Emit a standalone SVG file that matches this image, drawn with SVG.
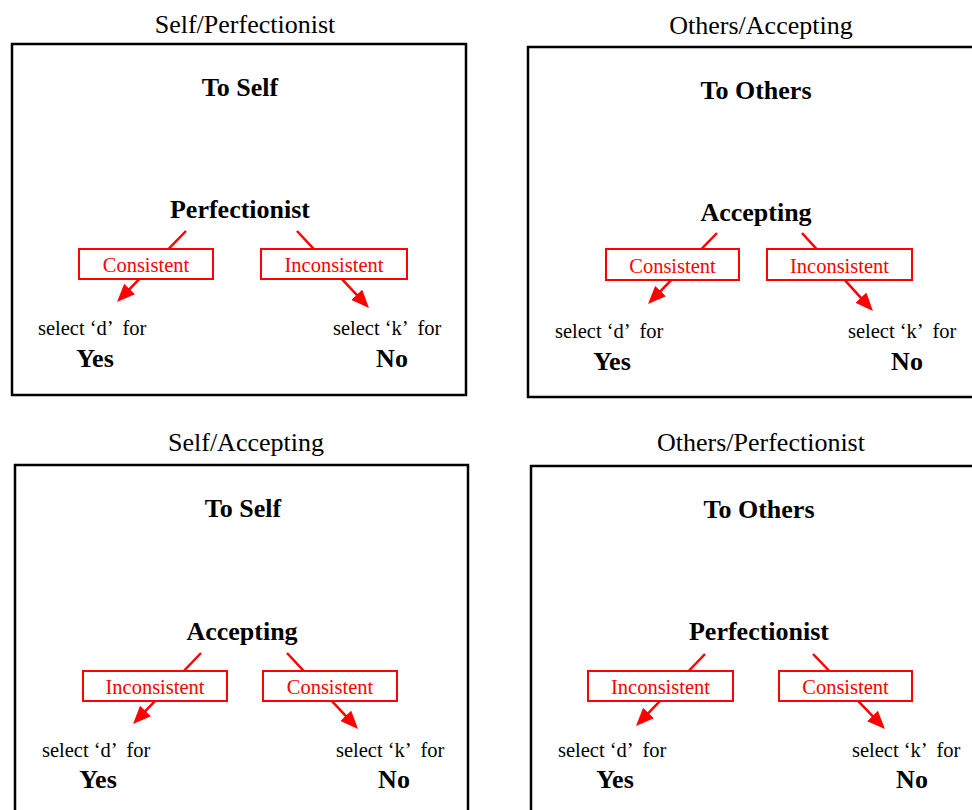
<svg xmlns="http://www.w3.org/2000/svg" width="972" height="810" viewBox="0 0 972 810">
<defs>
<style>
text{font-family:"Liberation Serif","Times New Roman",serif;}
.title{font-size:26px;fill:#000;text-anchor:middle;}
.head{font-size:26px;font-weight:bold;fill:#000;text-anchor:middle;}
.lbl{font-size:20.5px;fill:#ff0000;text-anchor:middle;}
.sel{font-size:20.5px;fill:#000;white-space:pre;}
.ans{font-size:26px;font-weight:bold;fill:#000;text-anchor:middle;}
.panel{fill:#fff;stroke:#000;stroke-width:2.5;}
.lbox{fill:#fff;stroke:#ff0000;stroke-width:2;}
.conn{stroke:#ff0000;stroke-width:2.5;fill:none;marker-end:url(#ah);}
</style>
<marker id="ah" markerWidth="18" markerHeight="15" refX="13" refY="7.5" orient="auto" markerUnits="userSpaceOnUse">
<path d="M0,0 L18,7.5 L0,15 z" fill="#ff0000"/>
</marker>
</defs>
<rect width="972" height="810" fill="#fff"/>

<g id="panel-self-perfectionist">
<text class="title" x="245" y="33">Self/Perfectionist</text>
<rect class="panel" x="12" y="44" width="454" height="351"/>
<text class="head" x="240" y="96">To Self</text>
<text class="head" x="240" y="218">Perfectionist</text>
</g>
<g id="panel-others-accepting">
<text class="title" x="761" y="34">Others/Accepting</text>
<rect class="panel" x="528" y="47" width="470" height="350"/>
<text class="head" x="756" y="99">To Others</text>
<text class="head" x="756" y="221">Accepting</text>
</g>
<g id="panel-self-accepting">
<text class="title" x="246" y="451">Self/Accepting</text>
<rect class="panel" x="15" y="465" width="453" height="360"/>
<text class="head" x="243" y="517">To Self</text>
<text class="head" x="242" y="640">Accepting</text>
</g>
<g id="panel-others-perfectionist">
<text class="title" x="761" y="451">Others/Perfectionist</text>
<rect class="panel" x="531" y="466" width="470" height="360"/>
<text class="head" x="759" y="518">To Others</text>
<text class="head" x="759" y="640">Perfectionist</text>
</g>

<g id="connectors">
<line class="conn" x1="186" y1="231" x2="120.5" y2="298.4"/>
<line class="conn" x1="297" y1="231" x2="365.6" y2="304.3"/>
<line class="conn" x1="717" y1="233" x2="651.5" y2="300.4"/>
<line class="conn" x1="802" y1="233" x2="869.6" y2="307.3"/>
<line class="conn" x1="201" y1="653" x2="136.5" y2="720.4"/>
<line class="conn" x1="287" y1="653" x2="354.6" y2="725.3"/>
<line class="conn" x1="705" y1="654" x2="639.5" y2="722.4"/>
<line class="conn" x1="813" y1="654" x2="881.5" y2="725.4"/>
</g>

<g id="p1-consistent"><rect class="lbox" x="79" y="249" width="134" height="30"/><text class="lbl" x="146" y="272">Consistent</text></g>
<g id="p1-inconsistent"><rect class="lbox" x="261" y="249" width="146" height="30"/><text class="lbl" x="334" y="272">Inconsistent</text></g>
<g id="p2-consistent"><rect class="lbox" x="606" y="249" width="133" height="31"/><text class="lbl" x="672.5" y="273">Consistent</text></g>
<g id="p2-inconsistent"><rect class="lbox" x="767" y="249" width="145" height="31"/><text class="lbl" x="839.5" y="273">Inconsistent</text></g>
<g id="p3-inconsistent"><rect class="lbox" x="83" y="671" width="144" height="30"/><text class="lbl" x="155" y="694">Inconsistent</text></g>
<g id="p3-consistent"><rect class="lbox" x="263" y="671" width="134" height="30"/><text class="lbl" x="330" y="694">Consistent</text></g>
<g id="p4-inconsistent"><rect class="lbox" x="588" y="671" width="145" height="30"/><text class="lbl" x="660.5" y="694">Inconsistent</text></g>
<g id="p4-consistent"><rect class="lbox" x="779" y="671" width="133" height="30"/><text class="lbl" x="845.5" y="694">Consistent</text></g>

<g id="p1-yes"><text class="sel" x="38" y="335">select ‘d’  for</text><text class="ans" x="95" y="367">Yes</text></g>
<g id="p1-no"><text class="sel" x="333" y="335">select ‘k’  for</text><text class="ans" x="392" y="367">No</text></g>
<g id="p2-yes"><text class="sel" x="555" y="338">select ‘d’  for</text><text class="ans" x="612" y="370">Yes</text></g>
<g id="p2-no"><text class="sel" x="848" y="338">select ‘k’  for</text><text class="ans" x="907" y="370">No</text></g>
<g id="p3-yes"><text class="sel" x="42" y="757">select ‘d’  for</text><text class="ans" x="98" y="788">Yes</text></g>
<g id="p3-no"><text class="sel" x="336" y="757">select ‘k’  for</text><text class="ans" x="394" y="788">No</text></g>
<g id="p4-yes"><text class="sel" x="558" y="757">select ‘d’  for</text><text class="ans" x="615" y="788">Yes</text></g>
<g id="p4-no"><text class="sel" x="852" y="757">select ‘k’  for</text><text class="ans" x="912" y="788">No</text></g>
</svg>
